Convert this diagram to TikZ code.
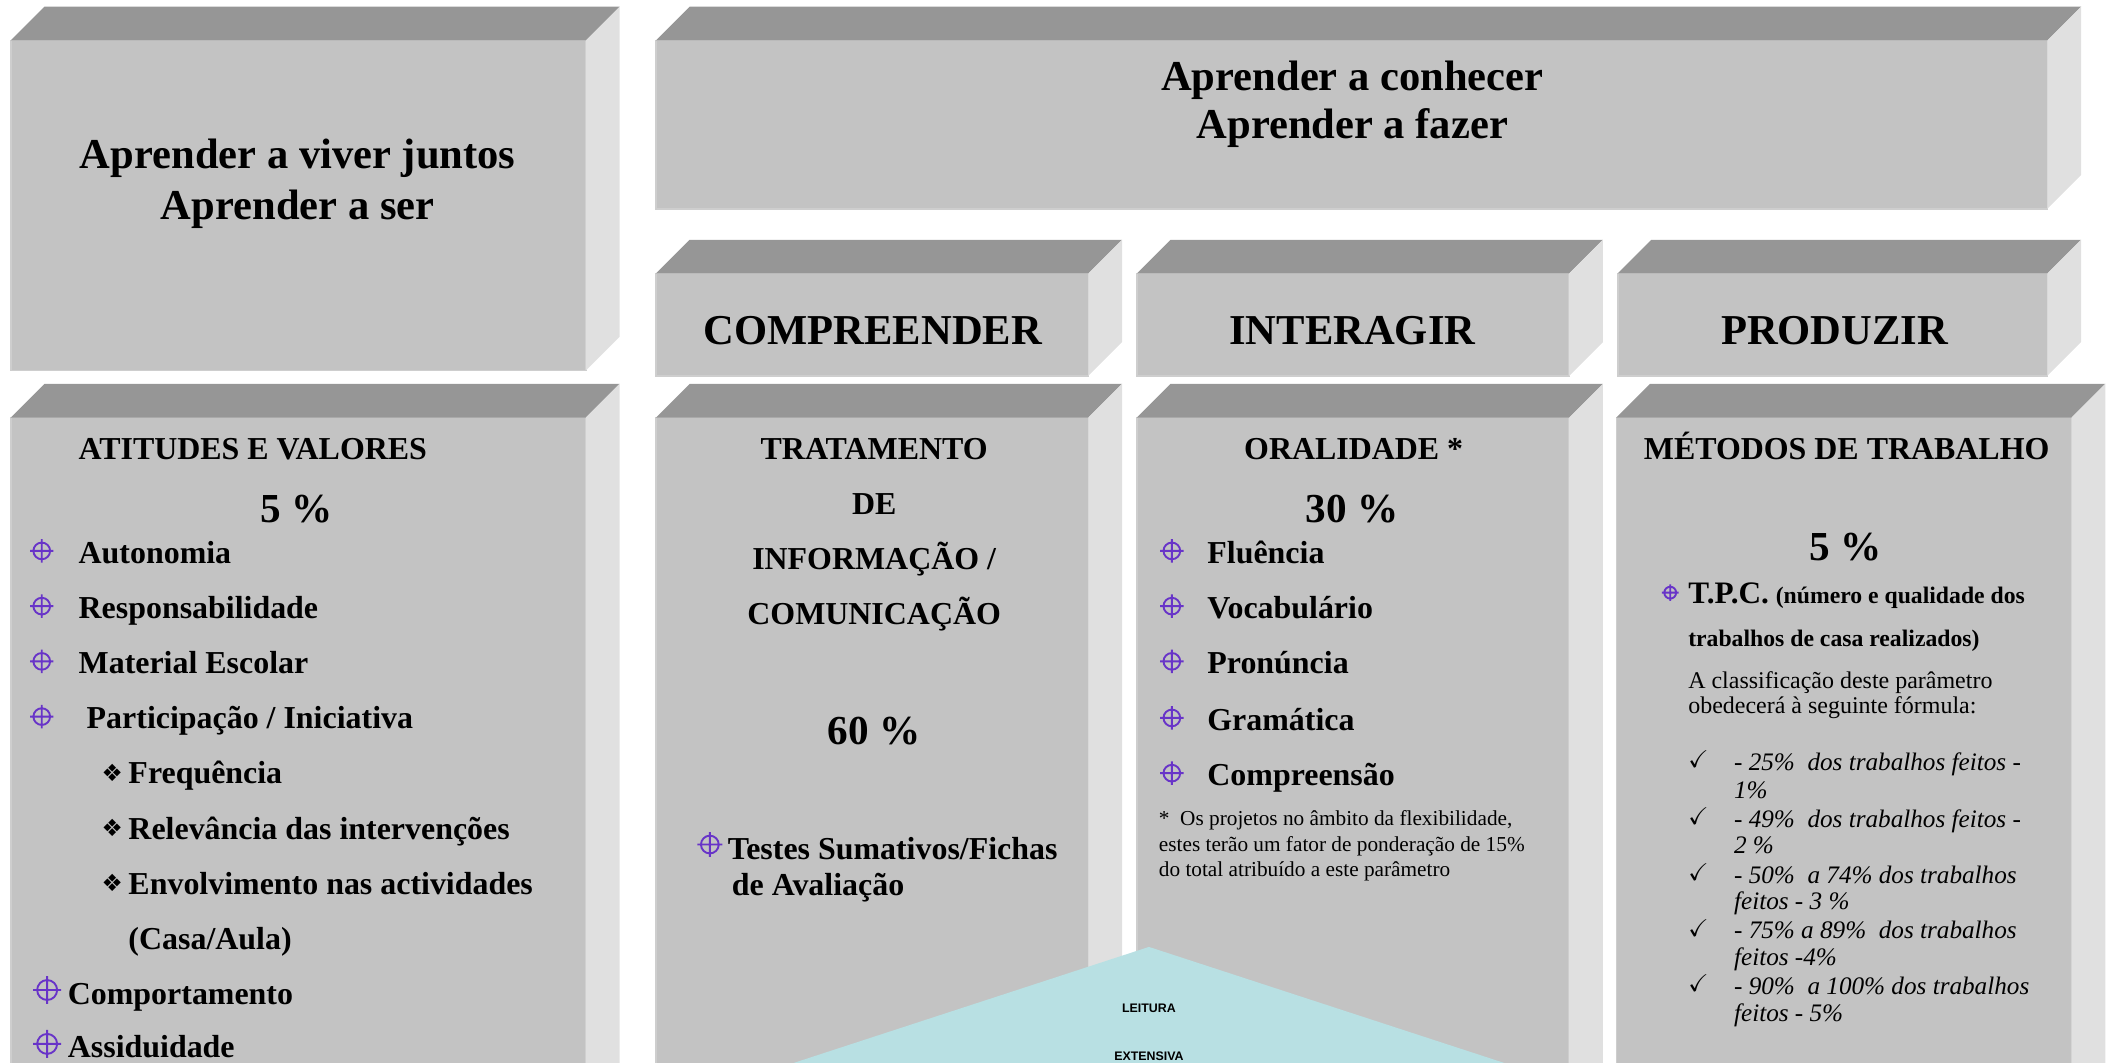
\documentclass[tikz,border=0pt]{standalone}
\usepackage{amssymb}
\usepackage{fontspec}
\setmainfont{Liberation Serif}
\newfontfamily\symfont{DejaVu Sans}
\newfontfamily\leitfont{Liberation Sans}
\usepackage{tikz}
\usetikzlibrary{calc}
\definecolor{boxfront}{RGB}{195,195,195}
\definecolor{boxtop}{RGB}{150,150,150}
\definecolor{boxside}{RGB}{224,224,224}
\definecolor{boxedge}{RGB}{206,206,206}
\definecolor{leitcol}{RGB}{184,224,227}
\definecolor{tgtcol}{RGB}{104,52,200}
\newcommand{\bigf}{\fontsize{15.8}{19}\selectfont\bfseries}
\newcommand{\midf}{\fontsize{11.85}{14}\selectfont\bfseries}
\newcommand{\pctf}{\fontsize{15.3}{18}\selectfont\bfseries}
\newcommand{\notef}{\fontsize{7.9}{9.5}\selectfont}
\newcommand{\regf}{\fontsize{8.9}{9.5}\selectfont}
\newcommand{\tpcf}{\fontsize{8.8}{10}\selectfont\bfseries}
\newcommand{\itf}{\fontsize{9.35}{10}\selectfont\itshape}
\newcommand{\leitf}{\leitfont\fontsize{4.6}{5}\selectfont\bfseries}
\newcommand{\dimf}{\symfont\fontsize{8.8}{9}\selectfont}
\newcommand{\block}[4]{%
  \filldraw[fill=boxfront,draw=boxedge,line width=.6pt] (#1,#2) rectangle (#3,#4);
  \fill[boxtop] (#1,#2) -- (#1+25,#2-25) -- (#3+25,#2-25) -- (#3,#2) -- cycle;
  \fill[boxside] (#3,#2) -- (#3+25,#2-25) -- (#3+25,#4-25) -- (#3,#4) -- cycle;}
\newcommand{\tgt}[3]{%
  \draw[tgtcol,line width=.7pt] (#1,#2) circle[radius=#3pt]
    +(-#3pt*1.4,0) -- +(#3pt*1.4,0) +(0,#3pt*1.4) -- +(0,-#3pt*1.4);}
\tikzset{
  txt/.style={inner sep=0pt,anchor=base west},
  ctr/.style={inner sep=0pt,anchor=base},
}

\begin{document}
\begin{tikzpicture}[x=0.5pt,y=-0.5pt]
\useasboundingbox (0,0) rectangle (1568,789);
\clip (0,0) rectangle (1568,789);
\block{8}{30}{435}{275}
\block{487}{30}{1520}{155}
\block{487}{203}{808}{279}
\block{844}{203}{1165}{279}
\block{1201}{203}{1520}{279}
\block{8}{310}{435}{840}
\block{487}{310}{808}{840}
\block{844}{310}{1165}{840}
\block{1200}{310}{1538}{840}

\node[ctr,font=\bigf] (viver) at (221,125) {Aprender a viver juntos};
\node[ctr,font=\bigf] (ser) at (221,163) {Aprender a ser};
\node[ctr,font=\bigf] (conhecer) at (1004,67) {Aprender a conhecer};
\node[ctr,font=\bigf] (fazer) at (1004,103) {Aprender a fazer};
\node[ctr,font=\bigf] (compr) at (648,256) {COMPREENDER};
\node[ctr,font=\bigf] (inter) at (1004,256) {INTERAGIR};
\node[ctr,font=\bigf] (prod) at (1362,256) {PRODUZIR};

\node[txt,font=\midf] (atv) at (58,341) {ATITUDES E VALORES};
\node[ctr,font=\pctf] (atvpct) at (220,388) {5 \%};
\tgt{31}{409}{3.1}
\tgt{31}{450}{3.1}
\tgt{31}{491}{3.1}
\tgt{31}{532}{3.1}
\node[txt,font=\midf] (auto) at (58,418) {Autonomia};
\node[txt,font=\midf] (resp) at (58,459) {Responsabilidade};
\node[txt,font=\midf] (mat) at (58,500) {Material Escolar};
\node[txt,font=\midf] (part) at (64,541) {Participação / Iniciativa};
\node[txt,font=\dimf] (d1) at (75,580) {❖};
\node[txt,font=\dimf] (d2) at (75,621) {❖};
\node[txt,font=\dimf] (d3) at (75,662) {❖};
\node[txt,font=\midf] (freq) at (95,582) {Frequência};
\node[txt,font=\midf] (relev) at (95,623) {Relevância das intervenções};
\node[txt,font=\midf] (envol) at (95,664) {Envolvimento nas actividades};
\node[txt,font=\midf] (casa) at (95,705) {(Casa/Aula)};
\tgt{35}{735}{3.7}
\tgt{35}{775}{3.7}
\node[txt,font=\midf] (comp) at (50,746) {Comportamento};
\node[txt,font=\midf] (assid) at (50,785) {Assiduidade};

\node[ctr,font=\midf] (trat) at (649,341) {TRATAMENTO};
\node[ctr,font=\midf] (de) at (649,382) {DE};
\node[ctr,font=\midf] (info) at (649,423) {INFORMAÇÃO /};
\node[ctr,font=\midf] (comun) at (649,464) {COMUNICAÇÃO};
\node[ctr,font=\pctf] (tratpct) at (649,553) {60 \%};
\tgt{527}{627}{3.3}
\node[txt,font=\midf] (testes) at (540,638) {Testes Sumativos/Fichas};
\node[txt,font=\midf] (aval) at (543,665) {de Avaliação};

\node[ctr,font=\midf] (oral) at (1005,341) {ORALIDADE *};
\node[ctr,font=\pctf] (oralpct) at (1004,388) {30 \%};
\tgt{870}{409}{3.1}
\tgt{870}{450}{3.1}
\tgt{870}{491}{3.1}
\tgt{870}{533}{3.1}
\tgt{870}{574}{3.1}
\node[txt,font=\midf] (flu) at (896,418) {Fluência};
\node[txt,font=\midf] (voc) at (896,459) {Vocabulário};
\node[txt,font=\midf] (pron) at (896,500) {Pronúncia};
\node[txt,font=\midf] (gram) at (896,542) {Gramática};
\node[txt,font=\midf] (compr2) at (896,583) {Compreensão};
\node[txt,font=\notef] (nota1) at (860,613) {*\ \ Os projetos no âmbito da flexibilidade,};
\node[txt,font=\notef] (nota2) at (860,632) {estes terão um fator de ponderação de 15\%};
\node[txt,font=\notef] (nota3) at (860,651) {do total atribuído a este parâmetro};

\node[ctr,font=\midf] (metod) at (1371,341) {MÉTODOS DE TRABALHO};
\node[ctr,font=\pctf] (metpct) at (1370,416) {5 \%};
\tgt{1240}{440}{2.2}
\node[txt] (tpc) at (1253,448) {{\fontsize{11.6}{13}\selectfont\bfseries T.P.C.} {\tpcf(número e qualidade dos}};
\node[txt,font=\tpcf] (tpc2) at (1253,480) {trabalhos de casa realizados)};
\node[txt,font=\regf] (classif) at (1253,511) {A classificação deste parâmetro};
\node[txt,font=\regf] (formula) at (1253,530) {obedecerá à seguinte fórmula:};
\node[txt,font=\fontsize{9}{9}\selectfont] (ck1) at (1253,570) {$\checkmark$};
\node[txt,font=\fontsize{9}{9}\selectfont] (ck2) at (1253,612) {$\checkmark$};
\node[txt,font=\fontsize{9}{9}\selectfont] (ck3) at (1253,654) {$\checkmark$};
\node[txt,font=\fontsize{9}{9}\selectfont] (ck4) at (1253,695) {$\checkmark$};
\node[txt,font=\fontsize{9}{9}\selectfont] (ck5) at (1253,736) {$\checkmark$};
\node[txt,font=\itf] (f1a) at (1287,572) {- 25\%\ \ dos trabalhos feitos -};
\node[txt,font=\itf] (f1b) at (1287,593) {1\%};
\node[txt,font=\itf] (f2a) at (1287,614) {- 49\%\ \ dos trabalhos feitos -};
\node[txt,font=\itf] (f2b) at (1287,634) {2 \%};
\node[txt,font=\itf] (f3a) at (1287,656) {- 50\%\ \ a 74\% dos trabalhos};
\node[txt,font=\itf] (f3b) at (1287,675) {feitos - 3 \%};
\node[txt,font=\itf] (f4a) at (1287,697) {- 75\% a 89\%\ \ dos trabalhos};
\node[txt,font=\itf] (f4b) at (1287,717) {feitos -4\%};
\node[txt,font=\itf] (f5a) at (1287,738) {- 90\%\ \ a 100\% dos trabalhos};
\node[txt,font=\itf] (f5b) at (1287,758) {feitos - 5\%};

\fill[leitcol] (853,703) -- (556,800) -- (1150,800) -- cycle;
\node[ctr,font=\leitf] (leit) at (853,752) {LEITURA};
\node[ctr,font=\leitf] (ext) at (853,787) {EXTENSIVA};
\end{tikzpicture}
\end{document}
